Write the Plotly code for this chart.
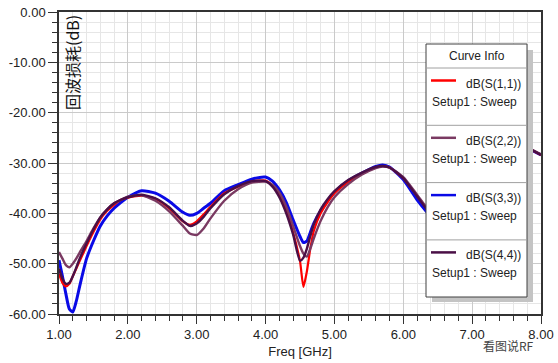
import plotly.graph_objects as go

freq = [1.0, 1.05, 1.1, 1.15, 1.2, 1.25, 1.3, 1.4, 1.5, 1.6, 1.7, 1.8, 1.9, 2.0,
        2.2, 2.4, 2.6, 2.8, 2.9, 3.0, 3.1, 3.2, 3.4, 3.6, 3.8, 4.0, 4.1, 4.2, 4.3,
        4.4, 4.5, 4.55, 4.6, 4.65, 4.7, 4.8, 4.9, 5.0, 5.2, 5.4, 5.6, 5.7, 5.8,
        6.0, 6.2, 6.4, 6.6, 6.8, 7.0, 7.2, 7.4, 7.6, 7.8, 8.0]

s11 = [-52.0, -53.8, -54.5, -54.0, -52.5, -51.0, -49.5, -46.5, -43.7, -41.2, -39.5, -38.3, -37.3, -36.9,
       -36.5, -37.1, -39.0, -41.6, -42.3, -41.6, -40.2, -38.7, -36.0, -34.7, -33.7, -33.5, -34.5, -36.4, -39.3,
       -43.8, -49.5, -54.6, -51.5, -47.0, -43.5, -40.0, -37.8, -36.0, -33.8, -32.2, -30.9, -30.6, -30.9,
       -33.0, -36.5, -40.0, -41.0, -37.0, -32.5, -29.0, -27.0, -26.3, -27.0, -28.4]

s22 = [-47.7, -49.0, -50.3, -50.7, -50.0, -49.0, -47.8, -45.5, -43.0, -40.8, -39.2, -38.0, -37.3, -36.7,
       -36.4, -37.5, -39.6, -42.5, -44.0, -44.3, -43.0, -41.0, -37.5, -35.2, -33.9, -33.7, -34.3, -35.9, -38.7,
       -42.5, -46.5, -48.0, -48.6, -47.0, -45.0, -41.5, -38.8, -36.8, -34.2, -32.3, -31.0, -30.7, -30.9,
       -32.8, -36.3, -39.8, -40.8, -36.8, -32.3, -28.9, -26.9, -26.2, -26.9, -28.3]

s33 = [-49.3, -52.5, -56.0, -59.0, -59.6, -57.5, -54.5, -49.0, -45.5, -42.5, -40.5, -39.0, -37.8, -36.8,
       -35.5, -36.0, -37.6, -39.8, -40.4, -40.0, -39.0, -38.0, -35.5, -34.3, -33.2, -32.8, -33.6, -35.3, -37.8,
       -41.3, -44.6, -45.8, -45.5, -43.8, -42.0, -39.5, -37.5, -35.8, -33.5, -32.0, -30.7, -30.4, -30.8,
       -33.3, -37.3, -40.5, -41.5, -37.5, -32.8, -29.2, -27.2, -26.5, -27.1, -28.4]

s44 = [-51.0, -53.0, -54.0, -53.8, -52.5, -50.8, -49.0, -46.0, -43.2, -40.8, -39.2, -38.0, -37.3, -36.8,
       -36.3, -37.0, -38.8, -41.5, -42.5, -42.0, -40.7, -39.0, -36.2, -34.6, -33.6, -33.6, -34.7, -36.8, -40.0,
       -44.2, -49.4, -48.8, -47.0, -44.5, -42.2, -39.2, -37.2, -35.6, -33.4, -31.9, -30.8, -30.6, -30.9,
       -33.0, -36.6, -40.1, -41.1, -37.1, -32.6, -29.1, -27.1, -26.4, -27.0, -28.4]

names = ["dB(S(1,1))", "dB(S(2,2))", "dB(S(3,3))", "dB(S(4,4))"]
series = [s11, s22, s33, s44]
colors = ["#FF0000", "#7A3A62", "#0A0AE6", "#4A0F46"]
widths = [2.2, 2.4, 3.0, 2.4]
sweep_label = "Setup1 : Sweep"

y_ticks = [0, -10, -20, -30, -40, -50, -60]
x_ticks = [1, 2, 3, 4, 5, 6, 7, 8]

FONT = "Liberation Sans, Arial, sans-serif"

fig = go.Figure()
for i in [2, 0, 1, 3]:
    fig.add_trace(go.Scatter(x=freq, y=series[i], mode="lines", name=names[i],
                             line=dict(color=colors[i], width=widths[i], shape="spline", smoothing=0.6),
                             showlegend=False))

W, H = 558, 363
L, R, T, B = 59, 541, 12, 314


def px(x):
    return (x - L) / (R - L)


def py(y):
    return (B - y) / (B - T)


shapes = []
annotations = []

# legend box with shadow
lx0, lx1, ly0, ly1 = 426, 527, 44, 297
shapes.append(dict(type="rect", xref="paper", yref="paper", x0=px(lx0 + 6), x1=px(lx1 + 6),
                   y0=py(ly1 + 5), y1=py(ly0 + 6), fillcolor="#C4C4C4", line=dict(width=0)))
shapes.append(dict(type="rect", xref="paper", yref="paper", x0=px(lx0), x1=px(lx1),
                   y0=py(ly1), y1=py(ly0), fillcolor="white", line=dict(color="#404040", width=1)))
annotations.append(dict(text="Curve Info", xref="paper", yref="paper", x=px((lx0 + lx1) / 2), y=py(56),
                        showarrow=False, font=dict(family=FONT, size=12, color="#222"),
                        xanchor="center", yanchor="middle"))
shapes.append(dict(type="line", xref="paper", yref="paper", x0=px(lx0), x1=px(lx1), y0=py(68), y1=py(68),
                   line=dict(color="#A0A0A0", width=1)))
step = 57.3
for k in range(4):
    top = 68 + k * step
    ly = top + 12.5
    shapes.append(dict(type="line", xref="paper", yref="paper", x0=px(431), x1=px(456), y0=py(ly), y1=py(ly),
                       line=dict(color=colors[k], width=2.5)))
    annotations.append(dict(text=names[k], xref="paper", yref="paper", x=px(523), y=py(ly + 3),
                            showarrow=False, font=dict(family=FONT, size=12, color="#222"),
                            xanchor="right", yanchor="middle"))
    annotations.append(dict(text=sweep_label, xref="paper", yref="paper", x=px(430), y=py(ly + 21),
                            showarrow=False, font=dict(family=FONT, size=12, color="#222"),
                            xanchor="left", yanchor="middle"))
    if k > 0:
        shapes.append(dict(type="line", xref="paper", yref="paper", x0=px(lx0), x1=px(lx1),
                           y0=py(top), y1=py(top), line=dict(color="#A0A0A0", width=1)))

# y-axis title inside plot
annotations.append(dict(text="回波损耗(dB)", xref="paper", yref="paper", x=px(72), y=py(63),
                        showarrow=False, textangle=-90,
                        font=dict(family="Noto Sans CJK SC", size=16, color="#111"),
                        xanchor="center", yanchor="middle"))
# watermark
annotations.append(dict(text="看图说RF", xref="paper", yref="paper", x=px(508), y=py(345),
                        showarrow=False, font=dict(family="Noto Sans CJK SC", size=12, color="#444"),
                        xanchor="center", yanchor="middle"))

fig.update_layout(
    width=W, height=H,
    margin=dict(l=L, r=W - R, t=T, b=H - B, autoexpand=False),
    paper_bgcolor="white", plot_bgcolor="white",
    shapes=shapes, annotations=annotations,
    font=dict(family=FONT, size=13, color="#222"),
    xaxis=dict(range=[1, 8], tickvals=x_ticks, ticktext=[f"{v:.2f}" for v in x_ticks],
               automargin=False,
               showgrid=True, gridcolor="#CACACA", gridwidth=1,
               ticks="outside", ticklen=8, tickwidth=1, tickcolor="#333",
               showline=True, linecolor="#333", linewidth=1.5, mirror=True,
               minor=dict(dtick=0.2, showgrid=True, gridcolor="#E6E6E6", ticks="outside",
                          ticklen=5, tickcolor="#333"),
               title=dict(text="Freq [GHz]", font=dict(size=13), standoff=6),
               tickfont=dict(size=13), zeroline=False),
    yaxis=dict(range=[-60, 0], tickvals=y_ticks, ticktext=[f"{v:.2f}" for v in y_ticks],
               automargin=False,
               showgrid=True, gridcolor="#CACACA", gridwidth=1,
               ticks="outside", ticklen=9, tickwidth=1, tickcolor="#333",
               showline=True, linecolor="#333", linewidth=1.5, mirror=True,
               minor=dict(dtick=2, showgrid=True, gridcolor="#E6E6E6", ticks="outside",
                          ticklen=5, tickcolor="#333"),
               tickfont=dict(size=13), zeroline=False),
)

fig.write_html("out.html", config={"displayModeBar": False},
               post_script="document.body.style.margin='0px';document.body.style.overflow='hidden';")
